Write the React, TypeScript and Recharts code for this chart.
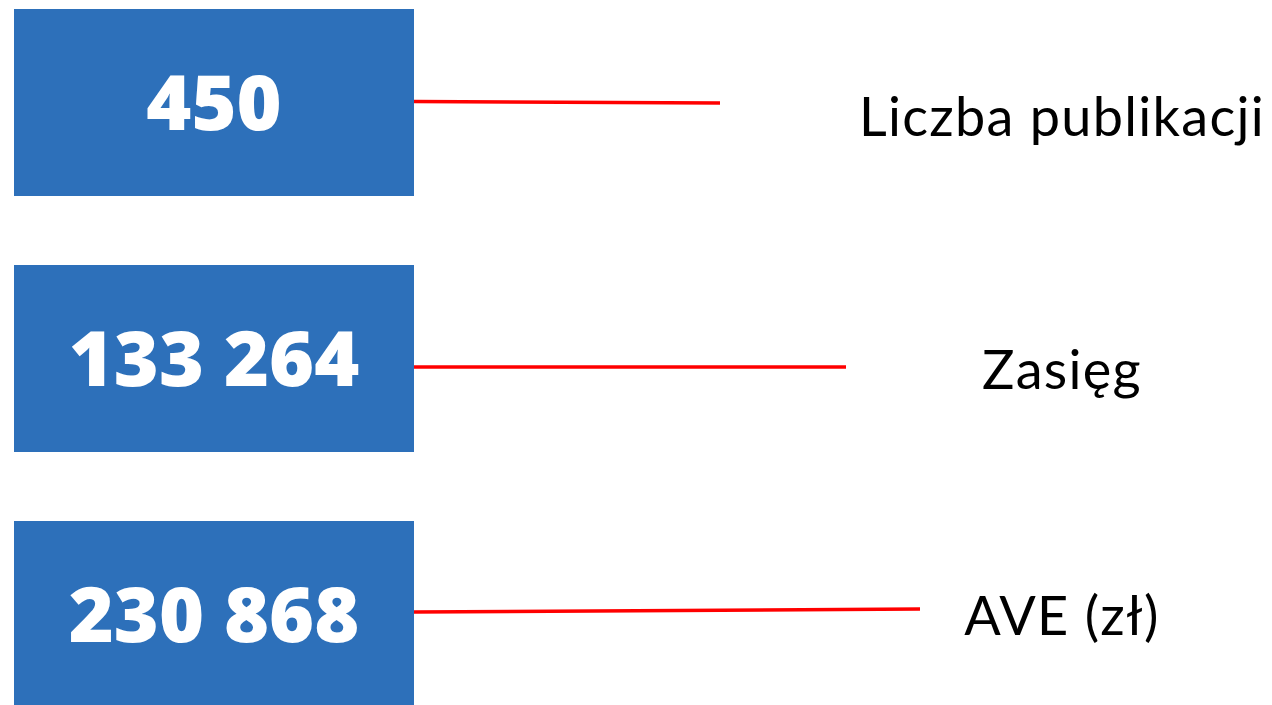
import React from 'react';
import { ComposedChart, Bar, XAxis, YAxis, LabelList } from 'recharts';

// metric names, headline values and the length of each red connector
const names = ['Liczba publikacji', 'Zasięg', 'AVE (zł)'];
const values = [450, 133264, 230868];
const connectors = [306, 432, 506];

// layout constants
const BOX_LEFT = 14;
const BOX_WIDTH = 400;
const PLOT_WIDTH = 922;
const BLUE = '#2D70BA';
const RED = '#FF0000';
const labelShift = [15, 12, 2];
const lineStart = [-1, 8.5, -2.5];
const lineEnd = [0.5, 8.5, -5.5];

const rows = names.map((name, i) => ({
  name,
  value: values[i],
  lead: BOX_LEFT,
  box: BOX_WIDTH,
  line: connectors[i],
}));

const fmt = (v: number) => String(v).replace(/\B(?=(\d{3})+(?!\d))/g, ' ');

const Connector = (props: any) => {
  const { x, y, width, height, index } = props;
  const cy = y + height / 2;
  return (
    <line
      x1={x}
      x2={x + width}
      y1={cy + lineStart[index]}
      y2={cy + lineEnd[index]}
      stroke={RED}
      strokeWidth={3.5}
    />
  );
};

const NameTick = (props: any) => {
  const { x, y, payload, index } = props;
  return (
    <text
      x={x + 140}
      y={y + labelShift[index]}
      dy={19}
      textAnchor="middle"
      fill="#000"
      fontSize={54}
      letterSpacing={1.3}
      fontFamily="Lato, sans-serif"
    >
      {payload.value}
    </text>
  );
};

export default function App() {
  return (
    <div style={{ position: 'absolute', left: 0, top: 0, width: 1272, height: 705, overflow: 'hidden', background: '#fff' }}>
      <div style={{ position: 'absolute', left: 0, top: -26.5 }}>
        <ComposedChart
          width={1272}
          height={768}
          data={rows}
          layout="vertical"
          margin={{ top: 0, right: 0, bottom: 0, left: 0 }}
          barCategoryGap={0}
        >
          <XAxis type="number" domain={[0, PLOT_WIDTH]} hide />
          <YAxis
            type="category"
            dataKey="name"
            orientation="right"
            width={1272 - PLOT_WIDTH}
            axisLine={false}
            tickLine={false}
            tickSize={0}
            tickMargin={0}
            tick={<NameTick />}
          />
          <Bar dataKey="lead" stackId="a" fill="none" barSize={187} isAnimationActive={false} />
          <Bar dataKey="box" stackId="a" fill={BLUE} barSize={187} isAnimationActive={false}>
            <LabelList
              dataKey="value"
              position="center"
              formatter={(v: any) => fmt(Number(v))}
              fill="#fff"
              fontSize={77}
              fontWeight={800}
              fontFamily="'Open Sans', sans-serif"
            />
          </Bar>
          <Bar dataKey="line" stackId="a" barSize={187} shape={<Connector />} isAnimationActive={false} />
        </ComposedChart>
      </div>
    </div>
  );
}
